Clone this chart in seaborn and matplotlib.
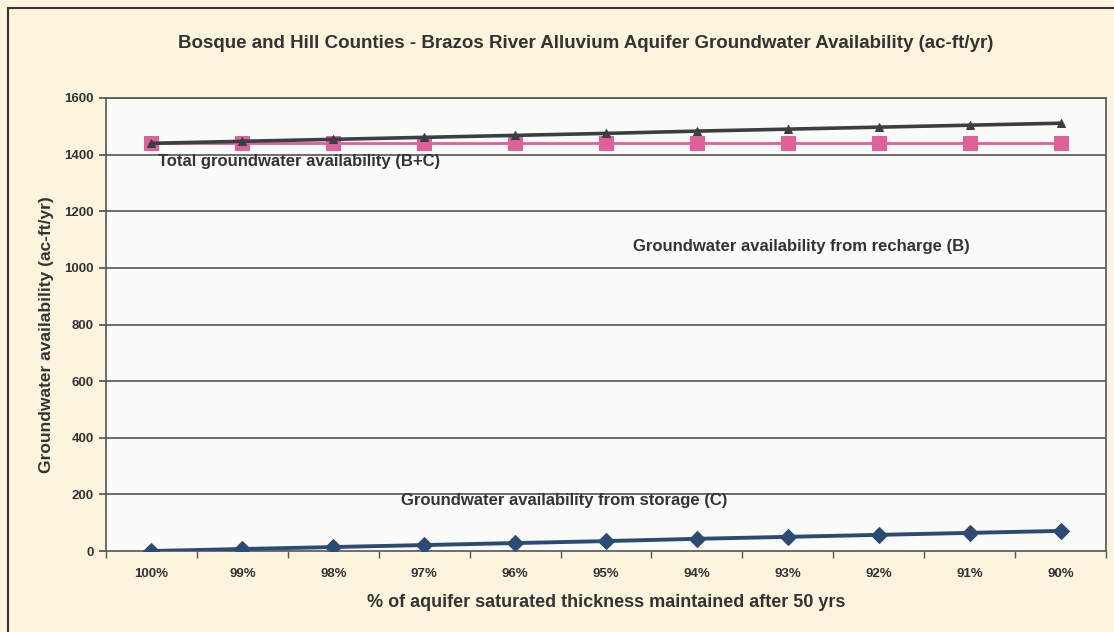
import matplotlib
matplotlib.use("Agg")
import matplotlib.pyplot as plt
import seaborn as sns
import pandas as pd
from matplotlib.patches import Rectangle

categories = ["100%", "99%", "98%", "97%", "96%", "95%", "94%", "93%", "92%", "91%", "90%"]
storage_c = [0, 7, 14, 21, 28, 35, 43, 50, 57, 64, 71]
recharge_b = [1440, 1440, 1440, 1440, 1440, 1440, 1440, 1440, 1440, 1440, 1440]
total_bc = [1440, 1447, 1454, 1461, 1468, 1475, 1483, 1490, 1497, 1504, 1511]
y_ticks = [0, 200, 400, 600, 800, 1000, 1200, 1400, 1600]

sns.set_theme(style="white")
plt.rcParams['font.family'] = ['Liberation Sans', 'DejaVu Sans']

df = pd.DataFrame({
    "cat": categories * 3,
    "val": total_bc + recharge_b + storage_c,
    "series": (["total"] * 11) + (["recharge"] * 11) + (["storage"] * 11),
})
df["x"] = list(range(11)) * 3

fig = plt.figure(figsize=(11.14, 6.32), dpi=100)
fig.patch.set_facecolor("#FCF4DC")
ax = fig.add_axes([106 / 1114, 1 - 551 / 632, 1000 / 1114, (551 - 98) / 632])
ax.set_facecolor("#FBFCFA")

palette = {"total": "#3A3F3F", "recharge": "#E0609A", "storage": "#2B4B74"}
markers = {"total": "^", "recharge": "s", "storage": "D"}
sizes = {"total": 6, "recharge": 10, "storage": 8}
widths = {"total": 2.6, "recharge": 2.0, "storage": 2.8}

for s in ["total", "recharge", "storage"]:
    sub = df[df["series"] == s]
    sns.lineplot(data=sub, x="x", y="val", ax=ax, color=palette[s],
                 marker=markers[s], markersize=sizes[s], linewidth=widths[s],
                 markeredgecolor=palette[s], legend=False, zorder=3 if s != "recharge" else 2)

ax.set_xlim(-0.5, 10.5)
ax.set_ylim(0, 1600)
ax.set_yticks(y_ticks)
ax.set_yticklabels([str(t) for t in y_ticks], fontsize=9.5, fontweight="bold", color="#333333")
ax.set_xticks(range(11))
ax.set_xticklabels(categories, fontsize=9.5, fontweight="bold", color="#333333")
ax.tick_params(axis="x", length=0, pad=12)
ax.tick_params(axis="y", length=5, direction="out", left=True, color="#555555", pad=4)
ax.set_xticks([i - 0.5 for i in range(12)], minor=True)
ax.tick_params(axis="x", which="minor", length=5, direction="out", bottom=True, color="#555555")

for y in y_ticks[1:]:
    ax.axhline(y, color="#555555", linewidth=1.2, zorder=1)

for sp in ["left", "bottom", "right", "top"]:
    ax.spines[sp].set_visible(True)
    ax.spines[sp].set_color("#555555")
    ax.spines[sp].set_linewidth(1.2)

ax.set_xlabel("% of aquifer saturated thickness maintained after 50 yrs", fontsize=13,
              fontweight="bold", color="#333333", labelpad=10)
ax.set_ylabel("Groundwater availability (ac-ft/yr)", fontsize=12.5, fontweight="bold",
              color="#333333", labelpad=10)
ax.yaxis.set_label_coords(-0.052, 0.478)

ax.text(0.07, 1375, "Total groundwater availability (B+C)", fontsize=12, fontweight="bold",
        color="#333333", va="center", ha="left")
ax.text(5.3, 1075, "Groundwater availability from recharge (B)", fontsize=12, fontweight="bold",
        color="#333333", va="center", ha="left")
ax.text(2.75, 177, "Groundwater availability from storage (C)", fontsize=12, fontweight="bold",
        color="#333333", va="center", ha="left")

fig.text(586 / 1114, 1 - 44 / 632, "Bosque and Hill Counties - Brazos River Alluvium Aquifer Groundwater Availability (ac-ft/yr)",
         fontsize=13.5, fontweight="bold", color="#333333", ha="center", va="center")

fig.patches.append(Rectangle((8 / 1114, -0.05), 1.2, 1 - 8 / 632 + 0.05, transform=fig.transFigure,
                             fill=False, edgecolor="#333333", linewidth=1.5))

fig.savefig("out.png", dpi=100, facecolor=fig.get_facecolor())
